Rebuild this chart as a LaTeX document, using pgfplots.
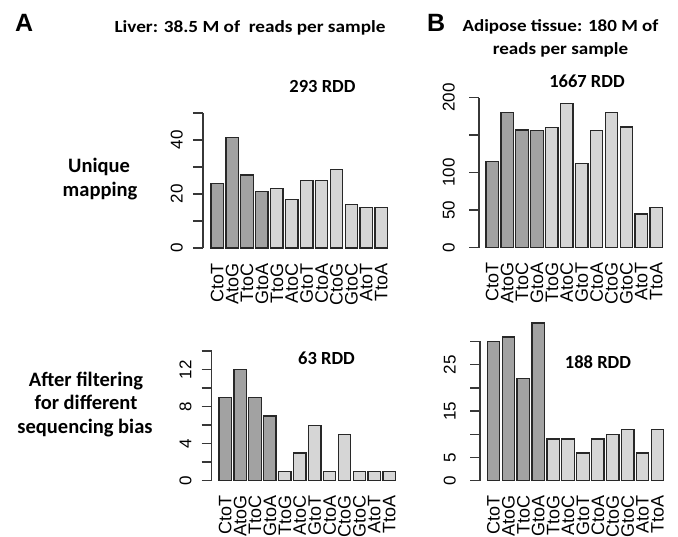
\documentclass[border=0pt]{standalone}
\usepackage{pgfplots}
\pgfplotsset{compat=1.18}
\usepackage{graphicx}
\usepackage{fontspec}
\setmainfont{Carlito}
\newfontfamily\arial{Liberation Sans}

\definecolor{dk}{RGB}{162,162,162}
\definecolor{lt}{RGB}{214,214,214}
\definecolor{bc}{RGB}{40,40,40}
\definecolor{axc}{RGB}{55,55,55}

\pgfplotsset{
  rstyle/.style={
    scale only axis,
    ybar, bar width=1, bar shift=0pt,
    clip=false, enlargelimits=false,
    xmax=14.4, ymin=0,
    axis y line*=left, axis x line*=bottom,
    x axis line style={draw=none},
    y axis line style={draw=axc, line width=1.4pt, -},
    tick align=outside, major tick length=10pt,
    ytick style={draw=axc, line width=1.4pt},
    xtick style={draw=none},
    /pgf/number format/assume math mode=true,
    xtick={0.7,1.9,3.1,4.3,5.5,6.7,7.9,9.1,10.3,11.5,12.7,13.9},
    xticklabels={CtoT,AtoG,TtoC,GtoA,TtoG,AtoC,GtoT,CtoA,CtoG,GtoC,AtoT,TtoA},
    xticklabel style={font=\arial\fontsize{18}{18}\selectfont, rotate=90, anchor=east, inner sep=0pt, inner xsep=5pt},
    yticklabel style={font=\arial\fontsize{17}{17}\selectfont, rotate=90, anchor=south, inner sep=0pt, inner ysep=10pt},
    every axis plot/.append style={draw=bc, line width=1.3pt},
  }
}

\begin{document}
\begin{tikzpicture}
\path[use as bounding box] (0pt,0pt) rectangle (678pt,537pt);

% top left: liver, unique mapping
\begin{axis}[rstyle, at={(203pt,289pt)}, anchor=south west,
  width=184.4pt, height=135pt, xmin=-0.444, ymax=50,
  ytick={0,10,20,30,40,50}, yticklabels={0,,20,,40,}]
\addplot[fill=dk] coordinates {(0.7,24)(1.9,41)(3.1,27)(4.3,21)};
\addplot[fill=lt] coordinates {(5.5,22)(6.7,18)(7.9,25)(9.1,25)(10.3,29)(11.5,16)(12.7,15)(13.9,15)};
\end{axis}

% top right: adipose, unique mapping
\begin{axis}[rstyle, at={(479pt,289.3pt)}, anchor=south west,
  width=183.4pt, height=150pt, xmin=-0.364, ymax=200,
  ytick={0,50,100,150,200}, yticklabels={0,50,100,,200},
  yticklabel style={inner ysep=14pt}]
\addplot[fill=dk] coordinates {(0.7,115)(1.9,180)(3.1,157)(4.3,156)};
\addplot[fill=lt] coordinates {(5.5,160)(6.7,192)(7.9,112)(9.1,156)(10.3,180)(11.5,161)(12.7,45)(13.9,54)};
\end{axis}

% bottom left: liver, after filtering
\begin{axis}[rstyle, at={(211.7pt,56.3pt)}, anchor=south west,
  width=183.7pt, height=129.5pt, xmin=-0.388, ymax=14,
  ytick={0,2,4,6,8,10,12,14}, yticklabels={0,,4,,8,,12,},
  yticklabel style={inner ysep=10pt}]
\addplot[fill=dk] coordinates {(0.7,9)(1.9,12)(3.1,9)(4.3,7)};
\addplot[fill=lt] coordinates {(5.5,1)(6.7,3)(7.9,6)(9.1,1)(10.3,5)(11.5,1)(12.7,1)(13.9,1)};
\end{axis}

% bottom right: adipose, after filtering
\begin{axis}[rstyle, at={(480pt,56.3pt)}, anchor=south west,
  width=183.7pt, height=139.2pt, xmin=-0.388, ymax=30,
  ytick={0,5,10,15,20,25,30}, yticklabels={0,5,,15,,25,},
  yticklabel style={inner ysep=14pt}]
\addplot[fill=dk] coordinates {(0.7,30)(1.9,31)(3.1,22)(4.3,34)};
\addplot[fill=lt] coordinates {(5.5,9)(6.7,9)(7.9,6)(9.1,9)(10.3,10)(11.5,11)(12.7,6)(13.9,11)};
\end{axis}

% panel letters and headers
\node[anchor=base west, inner sep=0pt, font=\arial\bfseries\fontsize{25}{25}\selectfont] at (15pt,505pt) {A};
\node[anchor=base west, inner sep=0pt, font=\arial\bfseries\fontsize{25}{25}\selectfont] at (427pt,505pt) {B};
\node[anchor=base, inner sep=0pt, font=\bfseries\fontsize{17}{17}\selectfont] at (250pt,504pt) {\scalebox{1.13}[1]{Liver: 38.5 M of~ reads per sample}};
\node[anchor=base, inner sep=0pt, font=\bfseries\fontsize{17}{17}\selectfont] at (560.5pt,505pt) {\scalebox{1.12}[1]{Adipose tissue: 180 M of}};
\node[anchor=base, inner sep=0pt, font=\bfseries\fontsize{17}{17}\selectfont] at (560.5pt,482pt) {\scalebox{1.12}[1]{reads per sample}};

% row labels
\node[anchor=base, inner sep=0pt, font=\bfseries\fontsize{20.5}{20.5}\selectfont] at (99pt,364.3pt) {Unique};
\node[anchor=base, inner sep=0pt, font=\bfseries\fontsize{20.5}{20.5}\selectfont] at (100pt,340.3pt) {mapping};
\node[anchor=base, inner sep=0pt, font=\bfseries\fontsize{20.5}{20.5}\selectfont] at (86pt,150.3pt) {After filtering};
\node[anchor=base, inner sep=0pt, font=\bfseries\fontsize{20.5}{20.5}\selectfont] at (86pt,127pt) {for different};
\node[anchor=base, inner sep=0pt, font=\bfseries\fontsize{20.5}{20.5}\selectfont] at (85pt,103pt) {sequencing bias};

% counts
\node[anchor=base, inner sep=0pt, font=\bfseries\fontsize{18.5}{18.5}\selectfont] at (322.5pt,444pt) {293 RDD};
\node[anchor=base, inner sep=0pt, font=\bfseries\fontsize{18.5}{18.5}\selectfont] at (587pt,449pt) {1667 RDD};
\node[anchor=base, inner sep=0pt, font=\bfseries\fontsize{18.5}{18.5}\selectfont] at (326.5pt,172pt) {63 RDD};
\node[anchor=base, inner sep=0pt, font=\bfseries\fontsize{18.5}{18.5}\selectfont] at (598pt,168pt) {188 RDD};
\end{tikzpicture}
\end{document}
